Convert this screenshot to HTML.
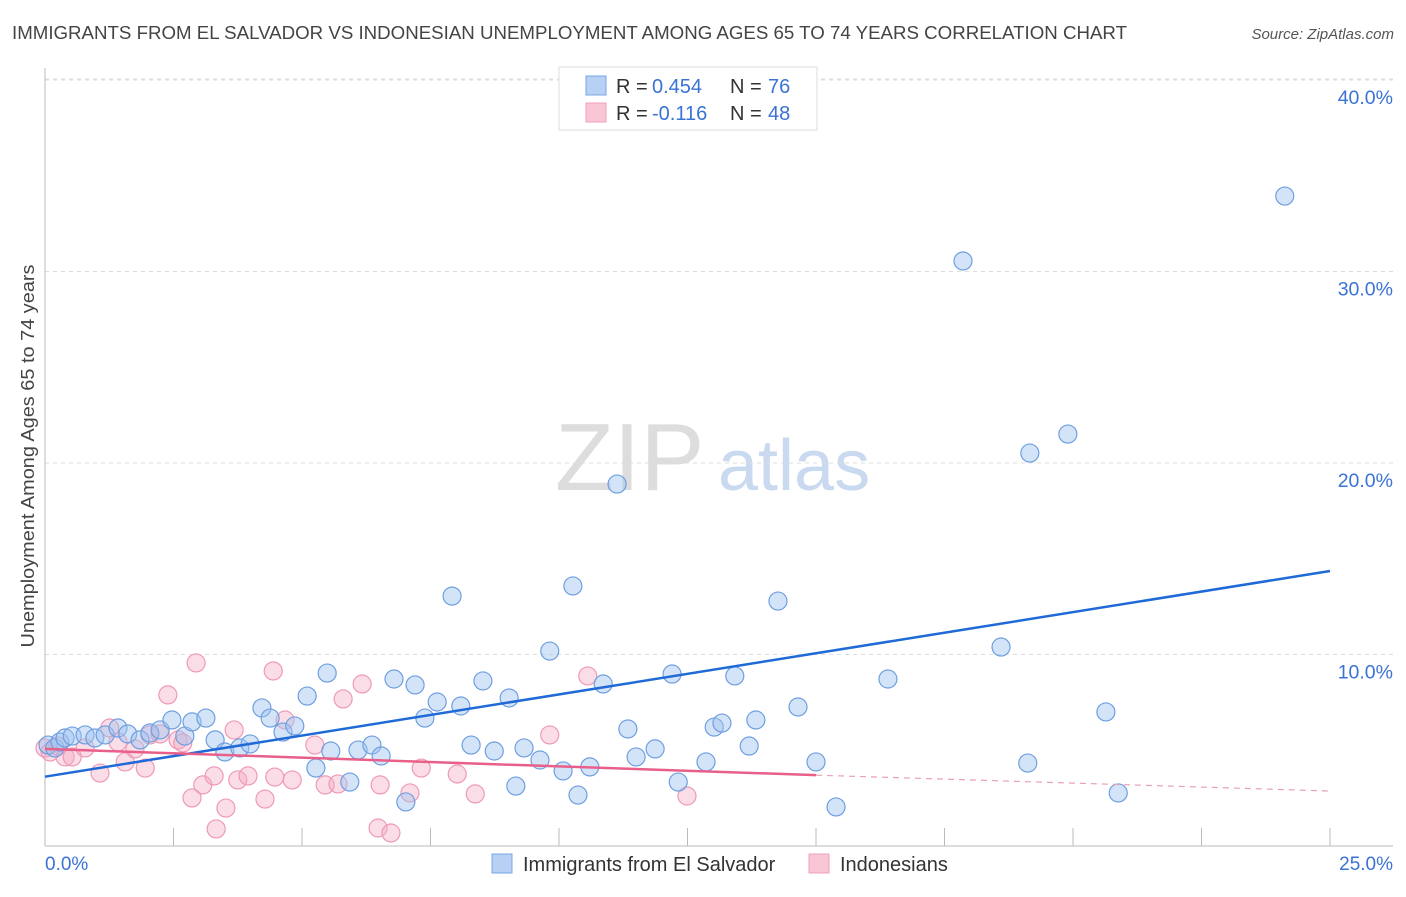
<!DOCTYPE html>
<html><head><meta charset="utf-8"><style>
body{margin:0;background:#fff;font-family:"Liberation Sans",sans-serif;}
svg text{font-family:"Liberation Sans",sans-serif;}
</style></head><body>
<svg id="chart" width="1406" height="892" xmlns="http://www.w3.org/2000/svg">
<text x="12" y="39" font-size="18.5" fill="#444" textLength="1115" lengthAdjust="spacingAndGlyphs">IMMIGRANTS FROM EL SALVADOR VS INDONESIAN UNEMPLOYMENT AMONG AGES 65 TO 74 YEARS CORRELATION CHART</text>
<text x="1394" y="39" font-size="15" fill="#555" text-anchor="end" font-style="italic">Source: ZipAtlas.com</text>
<text transform="translate(34,456) rotate(-90)" font-size="18" fill="#444" text-anchor="middle" textLength="383" lengthAdjust="spacingAndGlyphs">Unemployment Among Ages 65 to 74 years</text>
<g><text x="555" y="490" font-size="96" fill="#ddd" font-family="Liberation Serif">ZIP</text><text x="718" y="490" font-size="72" fill="#c9d9f0">atlas</text></g>
<g id="grid"></g><g id="axes"></g><g id="marks"></g>
<g>
<rect x="559" y="67" width="258" height="63" fill="#fff" stroke="#ddd"/>
<rect x="586" y="76" width="20" height="19" fill="#b8d0f3" stroke="#7aa6e6"/>
<rect x="586" y="103" width="20" height="19" fill="#f9c6d6" stroke="#f0a0ba"/>
<text x="616" y="93" font-size="20" fill="#333">R =</text><text x="652" y="93" font-size="20" fill="#3a73d4">0.454</text>
<text x="730" y="93" font-size="20" fill="#333">N =</text><text x="768" y="93" font-size="20" fill="#3a73d4">76</text>
<text x="616" y="120" font-size="20" fill="#333">R =</text><text x="652" y="120" font-size="20" fill="#3a73d4">-0.116</text>
<text x="730" y="120" font-size="20" fill="#333">N =</text><text x="768" y="120" font-size="20" fill="#3a73d4">48</text>
</g>
<g>
<rect x="492" y="854" width="20" height="19" fill="#b8d0f3" stroke="#7aa6e6"/>
<text x="523" y="871" font-size="20" fill="#333">Immigrants from El Salvador</text>
<rect x="809" y="854" width="20" height="19" fill="#f9c6d6" stroke="#f0a0ba"/>
<text x="840" y="871" font-size="20" fill="#333">Indonesians</text>
</g>
</svg>
<script>
const yTicks=[10,20,30,40];
const yTickLabels=["10.0%","20.0%","30.0%","40.0%"];
const xTickLabels=["0.0%","25.0%"];
const bluePx=[[48,745],[55,748],[60,742],[65,738],[72,736],[85,735],[95,738],[105,735],[118,728],[128,734],[140,740],[150,733],[160,730],[172,720],[185,736],[192,722],[206,718],[215,740],[225,752],[240,748],[250,744],[262,708],[270,718],[283,732],[295,726],[307,696],[316,768],[327,673],[331,751],[350,782],[358,750],[372,745],[381,756],[394,679],[406,802],[415,685],[425,718],[437,702],[452,596],[461,706],[471,745],[483,681],[494,751],[509,698],[516,786],[524,748],[540,760],[550,651],[563,771],[573,586],[578,795],[590,767],[603,684],[617,484],[628,729],[636,757],[655,749],[672,674],[678,782],[706,762],[714,727],[722,723],[735,676],[749,746],[756,720],[778,601],[798,707],[816,762],[836,807],[888,679],[963,261],[1001,647],[1028,763],[1030,453],[1068,434],[1106,712],[1118,793],[1285,196]];
const pinkPx=[[45,748],[50,752],[58,746],[65,757],[72,757],[85,748],[100,773],[110,728],[118,742],[125,762],[135,749],[145,768],[150,735],[160,734],[168,695],[178,740],[183,743],[192,798],[196,663],[203,785],[214,776],[226,808],[216,829],[234,730],[238,780],[248,776],[265,799],[273,671],[275,777],[285,720],[292,780],[315,745],[325,785],[338,784],[343,699],[362,684],[380,785],[378,828],[391,833],[410,793],[421,768],[457,774],[475,794],[550,735],[588,676],[687,796]];
const toData=p=>[+((p[0]-45)/1285*25).toFixed(2),+((846-p[1])/19.15).toFixed(2)];
const blueX=bluePx.map(p=>toData(p)[0]), blueY=bluePx.map(p=>toData(p)[1]);
const pinkX=pinkPx.map(p=>toData(p)[0]), pinkY=pinkPx.map(p=>toData(p)[1]);
const blueTrend=[[0,3.62],[25,14.36]];
const pinkTrend=[[0,5.07],[15,3.7],[25,2.87]];
const X=v=>45+v/25*1285, Y=v=>846-v*19.15;
const NS="http://www.w3.org/2000/svg";
function mk(parent,tag,attrs){const e=document.createElementNS(NS,tag);for(const k in attrs)e.setAttribute(k,attrs[k]);document.getElementById(parent).appendChild(e);return e;}
yTicks.forEach((t,i)=>{
 const g=mk('grid','line',{x1:45,x2:1393,y1:Y(t),y2:Y(t),stroke:'#ddd','stroke-dasharray':'4,4'});
 
 
 const l=mk('grid','text',{x:1393,y:Y(t)+24,'font-size':19.5,fill:'#3a73d4','text-anchor':'end'});l.textContent=yTickLabels[i];
 
 
});
mk('grid','line',{x1:45,x2:1393,y1:79,y2:79,stroke:'#ddd','stroke-dasharray':'4,4'});
const ax=mk('axes','line',{x1:45,x2:45,y1:68,y2:846,stroke:'#bbb'});


const bx=mk('axes','line',{x1:45,x2:1393,y1:846,y2:846,stroke:'#bbb'});


for(let i=1;i<=10;i++){mk('axes','line',{x1:X(i*2.5),x2:X(i*2.5),y1:828,y2:846,stroke:'#bbb'});}
[[0,'start',45],[1,'end',1393]].forEach(([i,a,x])=>{const t=mk('axes','text',{x:x,y:870,'font-size':19,fill:'#3a73d4','text-anchor':a});t.textContent=xTickLabels[i];
 
 });
pinkX.forEach((v,i)=>{const c=mk('marks','circle',{cx:X(v),cy:Y(pinkY[i]),r:9,fill:'rgba(245,170,195,0.4)',stroke:'#ee9ab5','stroke-width':1.2});
 
 });
blueX.forEach((v,i)=>{const c=mk('marks','circle',{cx:X(v),cy:Y(blueY[i]),r:9,fill:'rgba(160,195,240,0.45)',stroke:'#6f9fe0','stroke-width':1.2});
 
 });
const bt=mk('marks','line',{x1:X(blueTrend[0][0]),y1:Y(blueTrend[0][1]),x2:X(blueTrend[1][0]),y2:Y(blueTrend[1][1]),stroke:'#1f6ad6','stroke-width':2.5});


const pt=mk('marks','line',{x1:X(pinkTrend[0][0]),y1:Y(pinkTrend[0][1]),x2:X(pinkTrend[1][0]),y2:Y(pinkTrend[1][1]),stroke:'#e8608a','stroke-width':2.5});


const pd=mk('marks','line',{x1:X(pinkTrend[1][0]),y1:Y(pinkTrend[1][1]),x2:X(pinkTrend[2][0]),y2:Y(pinkTrend[2][1]),stroke:'#e8a0b6','stroke-width':1.2,'stroke-dasharray':'6,5'});


</script>
</body></html>
